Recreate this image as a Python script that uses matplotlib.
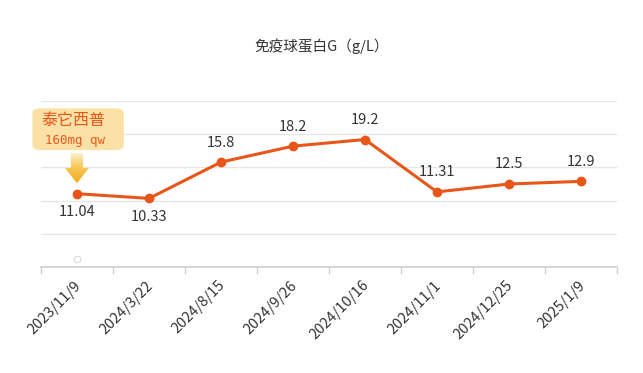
import matplotlib.pyplot as plt
import numpy as np
from matplotlib.patches import FancyBboxPatch, Polygon
from matplotlib.colors import LinearSegmentedColormap

plt.rcParams['font.family'] = ['Noto Sans CJK SC', 'DejaVu Sans']

# data
dates = ['2023/11/9', '2024/3/22', '2024/8/15', '2024/9/26',
         '2024/10/16', '2024/11/1', '2024/12/25', '2025/1/9']
igg = [11.04, 10.33, 15.8, 18.2, 19.2, 11.31, 12.5, 12.9]
label_below = [True, True, False, False, False, False, False, False]
# faint empty marker of a second series
drug_x = [0]
drug_y = [1.2]
drug_name = '泰它西普'
drug_dose = '160mg qw'
title = '免疫球蛋白G（g/L）'

line_color = '#e8561a'

fig = plt.figure(figsize=(6.43, 3.73), dpi=100)
ax = fig.add_axes([41 / 643, 1 - 267 / 373, 576 / 643, 166 / 373])

x = np.arange(len(dates))
ax.plot(x, igg, color=line_color, lw=2.2, marker='o', ms=6, zorder=3)
ax.scatter(drug_x, drug_y, s=22, facecolor='white', edgecolor='#d8d8d8', lw=0.8, zorder=3)

for i, v in enumerate(igg):
    if label_below[i]:
        ax.annotate(f'{v:g}', (i, v), xytext=(0, -8), textcoords='offset points',
                    ha='center', va='top', fontsize=10.5, color='#333333')
    else:
        ax.annotate(f'{v:g}', (i, v), xytext=(0, 9), textcoords='offset points',
                    ha='center', va='bottom', fontsize=10.5, color='#333333')

ax.set_xlim(-0.5, len(dates) - 0.5)
ax.set_ylim(0, 25)
ax.set_yticks([5, 10, 15, 20, 25])
ax.grid(axis='y', color='#e6e6e6', lw=1)
ax.set_axisbelow(True)
ax.tick_params(axis='y', left=False, labelleft=False)
for s in ['left', 'right', 'top']:
    ax.spines[s].set_visible(False)
ax.spines['bottom'].set_color('#d0d0d0')
ax.spines['bottom'].set_linewidth(1.2)

ax.set_xticks(np.arange(len(dates) + 1) - 0.5, minor=False)
ax.set_xticklabels([])
ax.tick_params(axis='x', length=5, color='#d0d0d0', width=1)
for i, d in enumerate(dates):
    ax.text(i - 0.04, -1.7, d, rotation=45, ha='right', va='top',
            rotation_mode='anchor', fontsize=10.5, color='#333333')

fig.text(0.5, 1 - 46 / 373, title, ha='center', va='center', fontsize=10.5, color='#333333')

# annotation box with drug info
box = FancyBboxPatch((-0.62, 17.6), 1.27, 6.3,
                     boxstyle='round,pad=0,rounding_size=0.12',
                     mutation_aspect=6.4 / 1,
                     facecolor='#fce1a6', edgecolor='none', zorder=4, clip_on=False)
ax.add_patch(box)
ax.text(-0.05, 22.0, drug_name, ha='center', va='center', fontsize=11.5,
        color='#e8561a', zorder=5)
ax.text(-0.03, 19.0, drug_dose, ha='center', va='center', fontsize=9,
        color='#e8561a', family='DejaVu Sans Mono', zorder=5)

# gradient arrow pointing at the first point
arrow = Polygon([(-0.085, 17.2), (0.085, 17.2), (0.085, 14.9), (0.165, 14.9),
                 (0.0, 12.6), (-0.165, 14.9), (-0.085, 14.9)],
                closed=True, facecolor='none', edgecolor='none', zorder=4)
ax.add_patch(arrow)
grad = np.linspace(0, 1, 100).reshape(-1, 1)
cmap = LinearSegmentedColormap.from_list('arr', ['#fdf3d8', '#f8c654', '#f4ae20'])
im = ax.imshow(grad, extent=(-0.17, 0.17, 12.6, 17.2), origin='upper', cmap=cmap,
               aspect='auto', zorder=4)
im.set_clip_path(arrow)

fig.savefig('out.png', dpi=100)
